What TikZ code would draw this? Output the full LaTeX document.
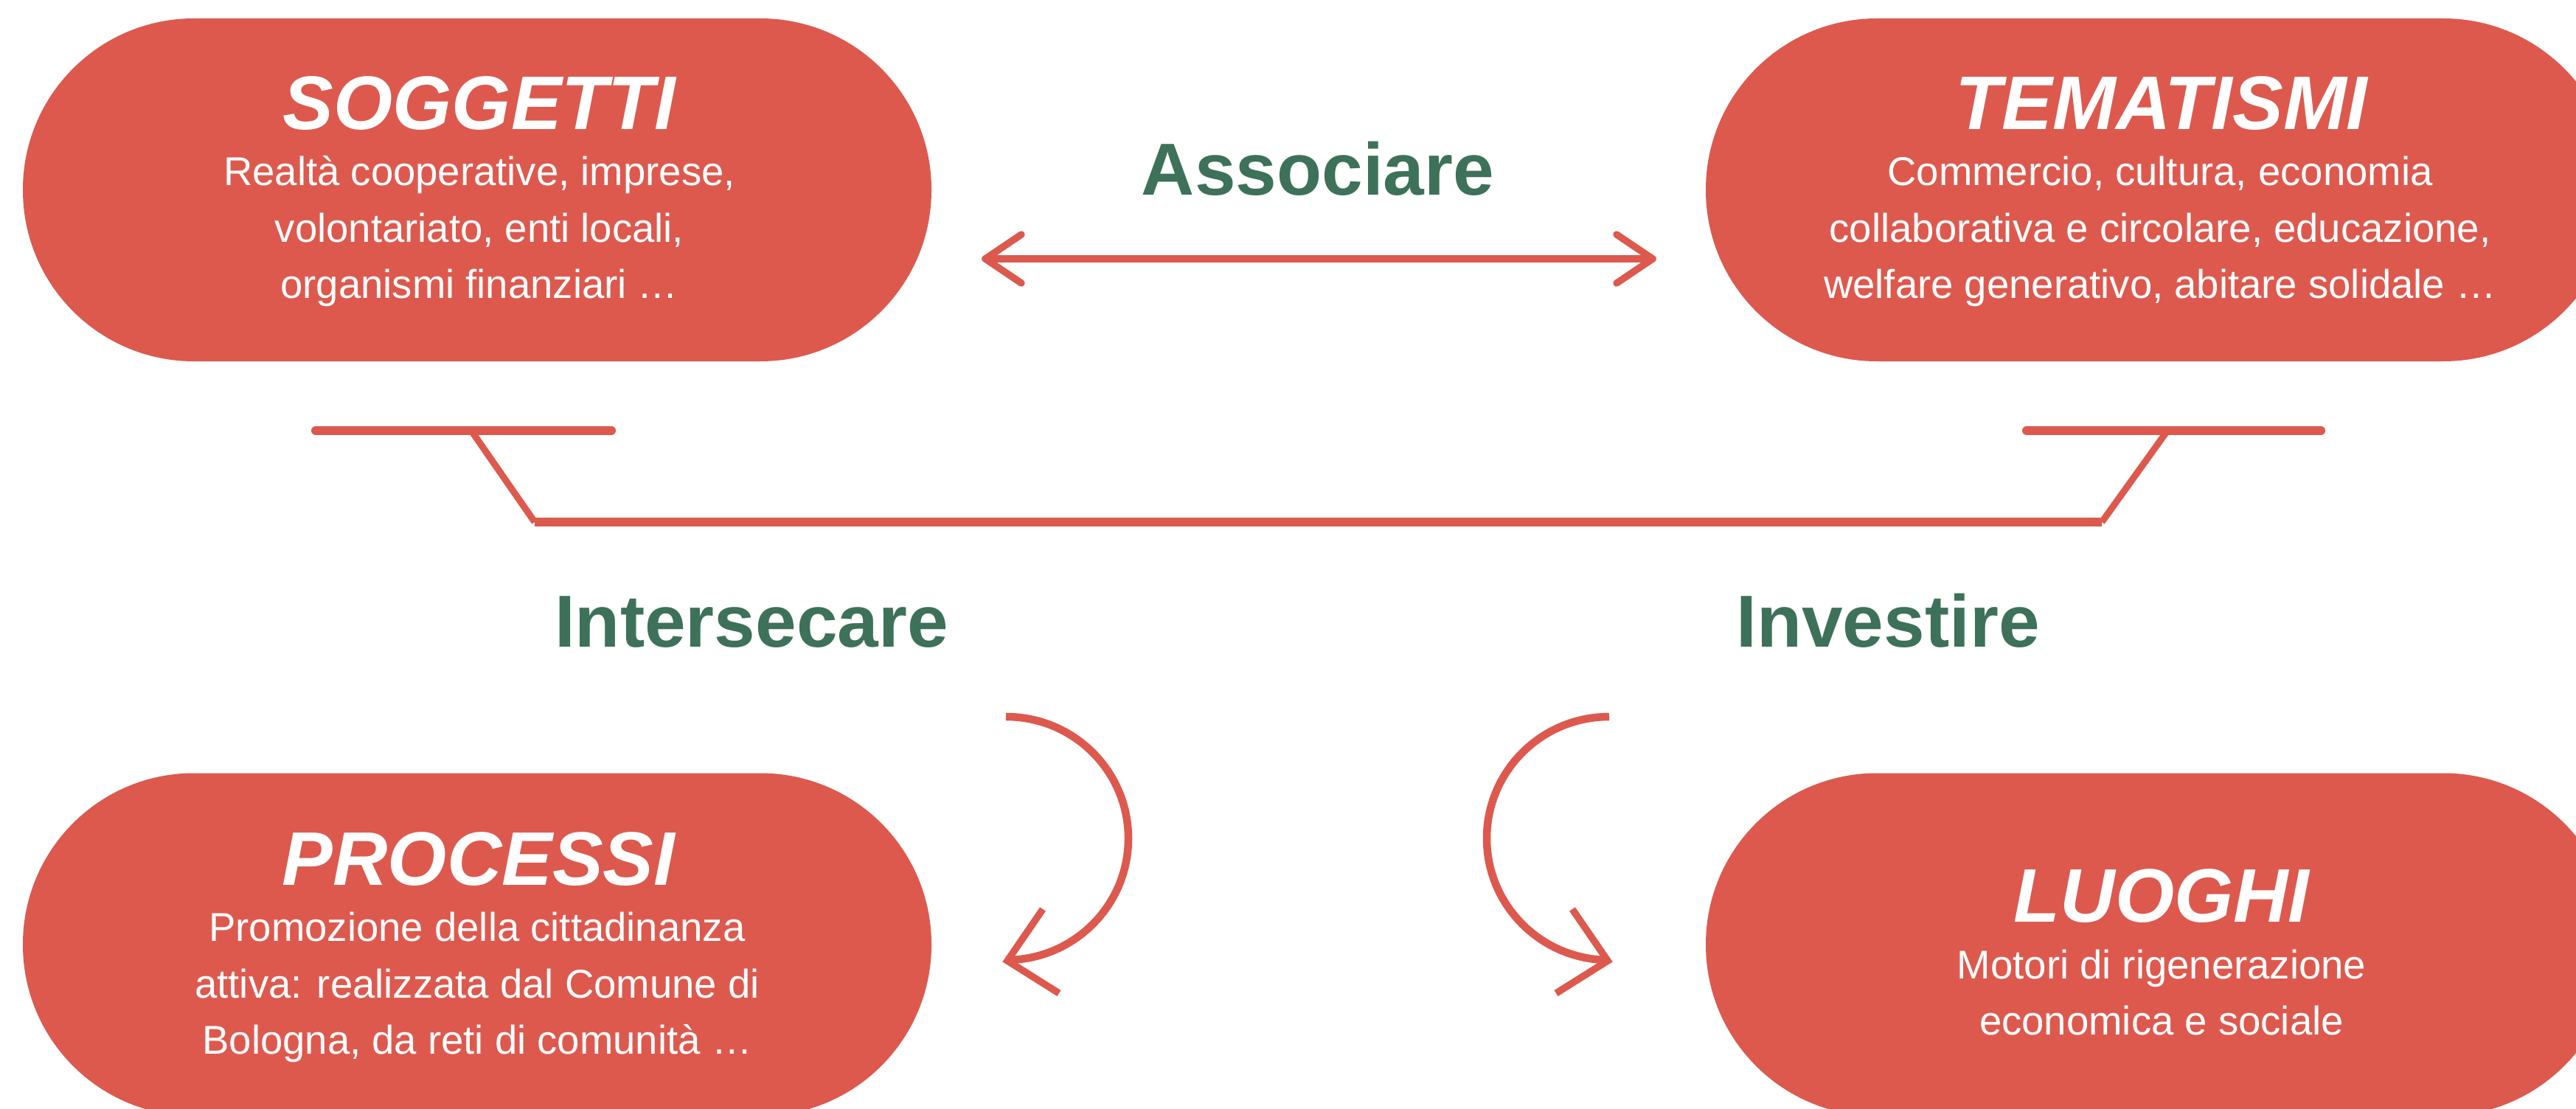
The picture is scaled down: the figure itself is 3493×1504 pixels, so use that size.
\documentclass[tikz,border=0pt]{standalone}
\usepackage{fontspec}
\setmainfont{Liberation Sans}
\definecolor{pillred}{RGB}{221,89,78}
\definecolor{labgreen}{RGB}{61,113,90}
\tikzset{
  pill/.style={fill=pillred, rounded corners=232pt, minimum width=1232pt, minimum height=465pt, inner sep=0pt},
  ttl/.style={anchor=base, inner sep=0pt, text=white, font=\fontsize{103}{103}\selectfont\bfseries\itshape},
  bodytxt/.style={anchor=base, inner sep=0pt, text=white, font=\fontsize{54.5}{77}\selectfont},
  greenlbl/.style={anchor=base, inner sep=0pt, text=labgreen, font=\fontsize{100}{100}\selectfont\bfseries},
  redline/.style={draw=pillred, line width=9.5pt, line cap=round, line join=round},
  barline/.style={draw=pillred, line width=12pt, line cap=round},
  diagline/.style={draw=pillred, line width=9pt},
  curveline/.style={draw=pillred, line width=10.5pt},
  armline/.style={draw=pillred, line width=9.5pt, line join=miter}
}
\begin{document}
\begin{tikzpicture}[x=1pt,y=-1pt]
\useasboundingbox (0,0) rectangle (3493,1504);
\fill[white] (0,0) rectangle (3493,1504);
\clip (0,0) rectangle (3493,1504);

% pills
\node[pill] (sog) at (647,257.5) {};
\node[pill] (tem) at (2929,257.5) {};
\node[pill] (pro) at (647,1281) {};
\node[pill] (luo) at (2929,1281) {};

% SOGGETTI
\node[ttl] (sogT) at (650,175) {SOGGETTI};
\node[bodytxt] (sog1) at (650,251) {Realtà cooperative, imprese,};
\node[bodytxt] (sog2) at (650,328) {volontariato, enti locali,};
\node[bodytxt] (sog3) at (650,404) {organismi finanziari …};

% TEMATISMI
\node[ttl] (temT) at (2931,175) {TEMATISMI};
\node[bodytxt] (tem1) at (2929,251) {Commercio, cultura, economia};
\node[bodytxt] (tem2) at (2929,328) {collaborativa e circolare, educazione,};
\node[bodytxt] (tem3) at (2929,404) {welfare generativo, abitare solidale …};

% PROCESSI
\node[ttl] (proT) at (649,1200) {PROCESSI};
\node[bodytxt] (pro1) at (647,1276) {Promozione della cittadinanza};
\node[bodytxt] (pro2) at (647,1353) {attiva: realizzata dal Comune di};
\node[bodytxt] (pro3) at (647,1429) {Bologna, da reti di comunità …};

% LUOGHI
\node[ttl] (luoT) at (2931,1250) {LUOGHI};
\node[bodytxt] (luo1) at (2931,1327) {Motori di rigenerazione};
\node[bodytxt] (luo2) at (2931,1403) {economica e sociale};

% green labels
\node[greenlbl] (assoc) at (1787,264) {Associare};
\node[greenlbl] (inters) at (1019,877) {Intersecare};
\node[greenlbl] (invest) at (2560,877) {Investire};

% double arrow (Associare)
\coordinate (aL) at (1336,351);
\coordinate (aR) at (2241,351);
\draw[redline] (aL) -- (aR);
\draw[redline] ([shift={(49,-33)}]aL) -- (aL) -- ([shift={(49,33)}]aL);
\draw[redline] ([shift={(-49,-33)}]aR) -- (aR) -- ([shift={(-49,33)}]aR);

% bracket
\coordinate (bl1) at (428,584);
\coordinate (bl2) at (829,584);
\coordinate (bld) at (639,584);
\coordinate (bb1) at (725,708);
\coordinate (bb2) at (2850,708);
\coordinate (brd) at (2939,584);
\coordinate (br1) at (2748,584);
\coordinate (br2) at (3147,584);
\draw[barline] (bl1) -- (bl2);
\draw[barline] (br1) -- (br2);
\draw[diagline] (bld) -- (bb1);
\draw[diagline] (brd) -- (bb2);
\draw[draw=pillred, line width=12pt] (bb1) -- (bb2);

% curved arrow left (Intersecare)
\coordinate (cL0) at (1364,972);
\coordinate (cL1) at (1530,1137);
\coordinate (cL2) at (1364,1302);
\draw[curveline] (cL0) .. controls (1456,972) and (1530,1046) .. (cL1)
  .. controls (1530,1228) and (1456,1302) .. (cL2);
\draw[armline] (1414,1233) -- (1366,1303) -- (1436,1347);

% curved arrow right (Investire)
\coordinate (cR0) at (2182,972);
\coordinate (cR1) at (2016,1137);
\coordinate (cR2) at (2182,1302);
\draw[curveline] (cR0) .. controls (2090,972) and (2016,1046) .. (cR1)
  .. controls (2016,1228) and (2090,1302) .. (cR2);
\draw[armline] (2132,1233) -- (2180,1303) -- (2110,1347);
\end{tikzpicture}
\end{document}
